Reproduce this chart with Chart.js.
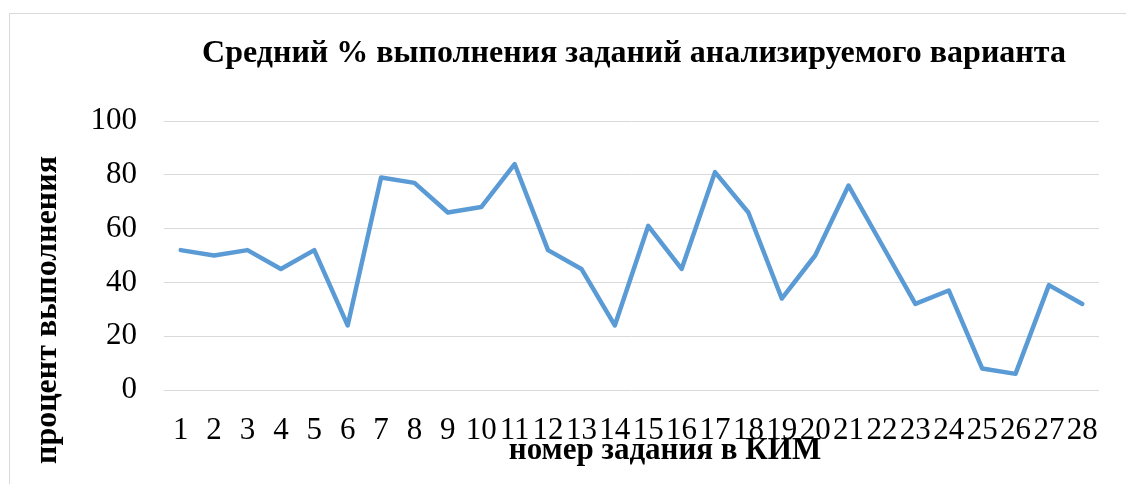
<!DOCTYPE html>
<html lang="ru">
<head>
<meta charset="utf-8">
<title>Средний % выполнения заданий</title>
<script src="https://cdn.jsdelivr.net/npm/chart.js@4.4.1/dist/chart.umd.min.js"></script>
<style>
    html, body { margin: 0; padding: 0; background: #fff; overflow: hidden; }
    #wrap { position: relative; width: 1126px; height: 484px; }
    #frame { position: absolute; left: 9px; top: 13px; width: 1300px; height: 700px;
             border: 1px solid #d9d9d9; box-sizing: border-box; }
    #chart { position: absolute; left: 0; top: 0; }
</style>
</head>
<body>
<div id="wrap">
    <div id="frame"></div>
    <canvas id="chart" width="1126" height="484"></canvas>
</div>
<script>
// data
const TASKS   = ['1','2','3','4','5','6','7','8','9','10','11','12','13','14',
                 '15','16','17','18','19','20','21','22','23','24','25','26','27','28'];
const PERCENT = [52, 50, 52, 45, 52, 24, 79, 77, 66, 68, 84, 52, 45, 24,
                 61, 45, 81, 66, 34, 50, 76, 54, 32, 37, 8, 6, 39, 32];
const Y_TICKS = [0, 20, 40, 60, 80, 100];

const TITLE   = 'Средний % выполнения заданий анализируемого варианта';
const Y_TITLE = 'процент выполнения';
const X_TITLE = 'номер задания в КИМ';

const SERIF = '"Liberation Serif", "Times New Roman", serif';

// titles are drawn by hand: Excel puts them off-centre from the plot
const titlesPlugin = {
    id: 'titles',
    afterDraw(chart) {
        const ctx = chart.ctx;
        ctx.save();
        ctx.fillStyle = '#000';
        ctx.textAlign = 'center';
        ctx.textBaseline = 'alphabetic';

        ctx.font = `bold 32px ${SERIF}`;
        ctx.fillText(TITLE, 634, 62);

        ctx.font = `bold 31px ${SERIF}`;
        ctx.fillText(X_TITLE, 665, 459);

        ctx.translate(48, 310);
        ctx.rotate(-Math.PI / 2);
        ctx.textBaseline = 'middle';
        ctx.font = `bold 32px ${SERIF}`;
        ctx.fillText(Y_TITLE, 0, 0);
        ctx.restore();
    }
};

new Chart(document.getElementById('chart'), {
    type: 'line',
    data: {
        labels: TASKS,
        datasets: [{
            data: PERCENT,
            borderColor: '#5b9bd5',
            borderWidth: 4.5,
            borderJoinStyle: 'round',
            borderCapStyle: 'round',
            pointRadius: 0,
            tension: 0,
            fill: false,
        }]
    },
    options: {
        responsive: false,
        animation: false,
        layout: { padding: { top: 121, right: 27, bottom: 0, left: 0 } },
        plugins: { legend: { display: false }, tooltip: { enabled: false } },
        scales: {
            x: {
                offset: true,
                grid: { display: false },
                border: { display: false },
                ticks: {
                    color: '#000', autoSkip: false, maxRotation: 0, minRotation: 0,
                    padding: 14, font: { family: SERIF, size: 31 },
                },
                afterFit: s => { s.height = 94; },
            },
            y: {
                min: 0, max: 100,
                grid: { color: '#d9d9d9', lineWidth: 1, drawTicks: false },
                border: { display: false },
                afterBuildTicks: s => { s.ticks = Y_TICKS.map(v => ({ value: v })); },
                ticks: { color: '#000', padding: 27, font: { family: SERIF, size: 31 } },
                afterFit: s => { s.width = 164; },
            },
        },
    },
    plugins: [titlesPlugin],
});
</script>
</body>
</html>
